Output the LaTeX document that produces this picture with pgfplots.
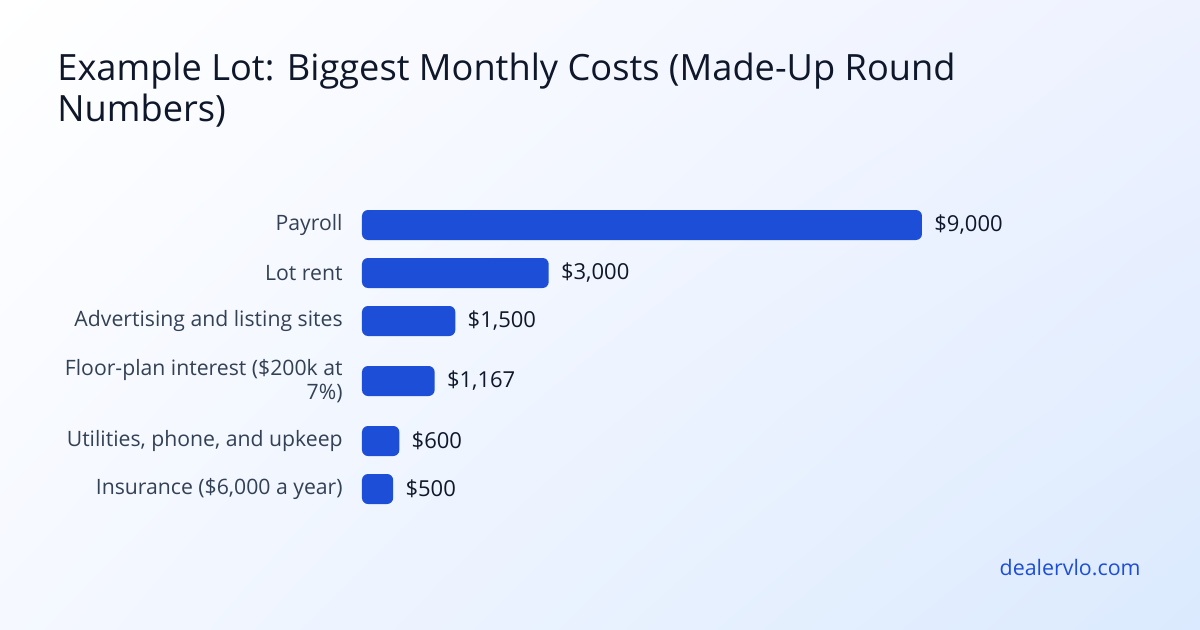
\documentclass[border=0pt]{standalone}
\usepackage{fontspec}
\setmainfont{Open Sans}
\usepackage{pgfplots}
\pgfplotsset{compat=1.18}
\usetikzlibrary{shadings}

\definecolor{barblue}{HTML}{1D4ED8}
\definecolor{titleink}{HTML}{0F172A}
\definecolor{labelink}{HTML}{334155}
\definecolor{bgtl}{HTML}{FFFFFF}
\definecolor{bgtr}{HTML}{EEF2FF}
\definecolor{bgbl}{HTML}{F5F8FF}
\definecolor{bgbr}{HTML}{DBEAFE}

% 1 px of the 1200 x 630 reference = 0.5pt, y measured downwards
\begin{document}
\begin{tikzpicture}
% background
\shade[upper left=bgtl, upper right=bgtr, lower left=bgbl, lower right=bgbr]
  (0pt,0pt) rectangle (600pt,-315pt);

% title
\node[anchor=base west, inner sep=0pt, text=titleink,
      font=\fontsize{18.1pt}{20pt}\selectfont] at (28.5pt,-40.5pt)
  {Example Lot: Biggest Monthly Costs (Made-Up Round};
\node[anchor=base west, inner sep=0pt, text=titleink,
      font=\fontsize{18.1pt}{20pt}\selectfont] at (28.5pt,-61pt)
  {Numbers)};

\begin{axis}[
    at={(181pt,-275pt)}, anchor=south west,
    scale only axis,
    width=280pt, height=200pt,
    xbar, bar width=15pt, bar shift=0pt,
    xmin=0, xmax=9000,
    ymin=150, ymax=550,
    y dir=reverse,
    axis line style={draw=none},
    xtick=\empty,
    ytick={225,273,321,381,441,489},
    yticklabels={Payroll, Lot rent, Advertising and listing sites,
                 {Floor-plan interest (\$200k at\\7\%)},
                 {Utilities, phone, and upkeep}, {Insurance (\$6,000 a year)}},
    major tick length=0pt,
    yticklabel style={align=right, inner sep=0pt, xshift=-9.5pt,
                      text=labelink, font=\fontsize{10.6pt}{12pt}\selectfont},
    point meta=explicit symbolic,
    nodes near coords,
    nodes near coords style={anchor=west, inner sep=0pt, xshift=6pt,
                             text=titleink, font=\fontsize{11pt}{12pt}\selectfont},
    clip=false,
]
\addplot[fill=barblue, draw=none, rounded corners=3pt] coordinates {
    (9000,225) [\$9,000]
    (3000,273) [\$3,000]
    (1500,321) [\$1,500]
    (1167,381) [\$1,167]
    (600,441)  [\$600]
    (500,489)  [\$500]
};
\end{axis}

% footer
\node[anchor=base east, inner sep=0pt, text=barblue,
      font=\fontsize{10.7pt}{12pt}\selectfont] at (570.5pt,-287.5pt) {dealervlo.com};

\pgfresetboundingbox
\path[use as bounding box] (0pt,0pt) rectangle (600pt,-315pt);
\end{tikzpicture}
\end{document}
